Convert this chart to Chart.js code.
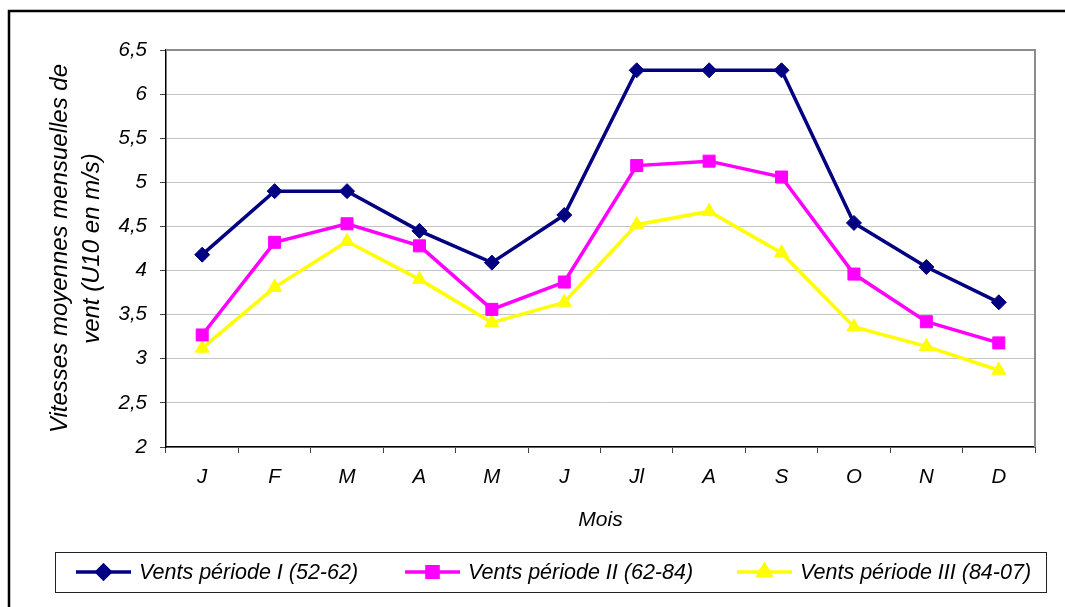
<!DOCTYPE html>
<html lang="fr">
<head>
<meta charset="utf-8">
<title>Vitesses moyennes mensuelles de vent</title>
<script src="https://cdn.jsdelivr.net/npm/chart.js@4.4.1/dist/chart.umd.min.js"></script>
<style>
    html, body { margin: 0; padding: 0; background: #fff; }
    #wrap { width: 1065px; height: 607px; position: relative; }
</style>
</head>
<body>
<div id="wrap"><canvas id="windChart" width="1065" height="607"></canvas></div>
<script>
const months = ['J', 'F', 'M', 'A', 'M', 'J', 'Jl', 'A', 'S', 'O', 'N', 'D'];
const periodI = [4.18, 4.90, 4.90, 4.45, 4.09, 4.63, 6.27, 6.27, 6.27, 4.54, 4.04, 3.64];
const periodII = [3.27, 4.32, 4.53, 4.28, 3.56, 3.87, 5.19, 5.24, 5.06, 3.96, 3.42, 3.18];
const periodIII = [3.12, 3.81, 4.33, 3.90, 3.41, 3.64, 4.52, 4.67, 4.20, 3.36, 3.14, 2.87];
const seriesNames = ['Vents période I (52-62)', 'Vents période II (62-84)', 'Vents période III (84-07)'];
const yMin = 2;
const yMax = 6.5;
const yStep = 0.5;

const FONT = "'Liberation Sans', Arial, sans-serif";

// frame around the whole chart, gray border on the plot area, boxed legend
const framePlugin = {
    id: 'frame',
    beforeDraw(chart) {
        const ctx = chart.ctx;
        ctx.save();
        ctx.fillStyle = '#fff';
        ctx.fillRect(0, 0, chart.width, chart.height);
        ctx.restore();
    },
    afterDraw(chart) {
        const ctx = chart.ctx;
        const area = chart.chartArea;
        ctx.save();

        // plot area top/right edge
        ctx.strokeStyle = '#8c8c8c';
        ctx.lineWidth = 2;
        ctx.beginPath();
        ctx.moveTo(area.left, area.top);
        ctx.lineTo(area.right, area.top);
        ctx.lineTo(area.right, area.bottom);
        ctx.stroke();

        // outer frame (left + top)
        ctx.strokeStyle = '#000';
        ctx.lineWidth = 2.5;
        ctx.beginPath();
        ctx.moveTo(9, chart.height);
        ctx.lineTo(9, 11);
        ctx.lineTo(chart.width, 11);
        ctx.stroke();

        // legend box
        ctx.lineWidth = 1;
        ctx.strokeStyle = '#222';
        ctx.strokeRect(55.5, 552.5, 991, 40);

        const itemX = [76, 405, 737];
        const legendY = 572;
        ctx.font = 'italic 21.5px ' + FONT;
        ctx.textBaseline = 'middle';
        ctx.textAlign = 'left';
        chart.data.datasets.forEach((ds, i) => {
            const x0 = itemX[i];
            ctx.strokeStyle = ds.borderColor;
            ctx.lineWidth = ds.borderWidth;
            ctx.beginPath();
            ctx.moveTo(x0, legendY);
            ctx.lineTo(x0 + 55, legendY);
            ctx.stroke();
            Chart.helpers.drawPoint(ctx, {
                pointStyle: ds.pointStyle,
                radius: ds.pointRadius - 1,
                rotation: 0,
                borderWidth: 1
            }, x0 + 27.5, legendY);
            ctx.fillStyle = ds.pointBackgroundColor;
            ctx.strokeStyle = ds.pointBorderColor;
            ctx.fill();
            ctx.stroke();
            ctx.fillStyle = '#000';
            ctx.fillText(ds.label, x0 + 63, legendY + 1);
        });
        ctx.restore();
    }
};

function makeSeries(label, values, color, style, radius) {
    return {
        label: label,
        data: values,
        borderColor: color,
        backgroundColor: color,
        pointBackgroundColor: color,
        pointBorderColor: color,
        borderWidth: 3.5,
        pointStyle: style,
        pointRadius: radius,
        pointHoverRadius: radius,
        pointBorderWidth: 1,
        tension: 0,
        fill: false
    };
}

const ctx = document.getElementById('windChart').getContext('2d');
new Chart(ctx, {
    type: 'line',
    data: {
        labels: months,
        datasets: [
            makeSeries(seriesNames[0], periodI, '#000080', 'rectRot', 7.5),
            makeSeries(seriesNames[1], periodII, '#ff00ff', 'rect', 8.5),
            makeSeries(seriesNames[2], periodIII, '#ffff00', 'triangle', 8)
        ]
    },
    options: {
        responsive: false,
        animation: false,
        devicePixelRatio: 1,
        layout: {
            padding: { left: 8, top: 50, right: 30, bottom: 0 }
        },
        plugins: {
            legend: { display: false },
            tooltip: { enabled: false }
        },
        scales: {
            x: {
                offset: true,
                afterFit: (scale) => { scale.height = 160; },
                grid: {
                    offset: true,
                    drawOnChartArea: false,
                    drawTicks: true,
                    tickLength: 6,
                    tickColor: '#444'
                },
                border: { color: '#000', width: 1.5 },
                ticks: {
                    color: '#000',
                    padding: 12,
                    font: { family: FONT, size: 20.5, style: 'italic' }
                },
                title: {
                    display: true,
                    text: 'Mois',
                    color: '#000',
                    padding: { top: 0, bottom: 74 },
                    font: { family: FONT, size: 21, style: 'italic', lineHeight: 1.2 }
                }
            },
            y: {
                min: yMin,
                max: yMax,
                afterFit: (scale) => { scale.width = 158; },
                grid: {
                    color: '#c4c4c4',
                    lineWidth: 1,
                    tickLength: 6,
                    tickColor: '#444'
                },
                border: { color: '#000', width: 1.5 },
                ticks: {
                    stepSize: yStep,
                    color: '#000',
                    padding: 13,
                    font: { family: FONT, size: 20.5, style: 'italic' },
                    callback: (value) => String(value).replace('.', ',')
                },
                title: {
                    display: true,
                    text: ['Vitesses moyennes mensuelles de', 'vent (U10 en m/s)'],
                    color: '#000',
                    padding: { top: 36, bottom: 0 },
                    font: { family: FONT, size: 24, style: 'italic', lineHeight: 1.33 }
                }
            }
        }
    },
    plugins: [framePlugin]
});
</script>
</body>
</html>
